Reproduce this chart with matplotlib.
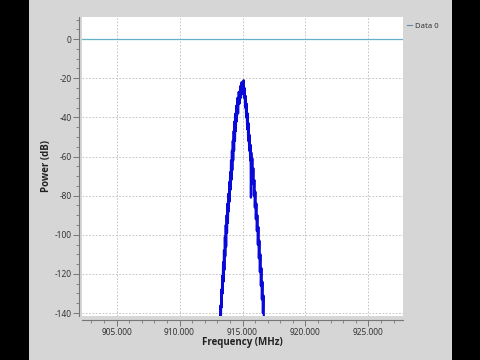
import matplotlib
matplotlib.use('Agg')
import matplotlib.pyplot as plt
from matplotlib.ticker import MultipleLocator, FormatStrFormatter
from matplotlib.patches import Rectangle

plt.rcParams['font.family'] = ['Noto Sans', 'DejaVu Sans']
plt.rcParams['axes.unicode_minus'] = False

# spectrum trace (MHz, dB)
freq_mhz = [913.20, 913.26, 913.28, 913.32, 913.35, 913.39, 913.42, 913.46, 913.49, 913.53,
            913.56, 913.60, 913.63, 913.67, 913.70, 913.74, 913.77, 913.81, 913.84, 913.88,
            913.91, 913.95, 913.98, 914.02, 914.05, 914.09, 914.12, 914.16, 914.19, 914.23,
            914.26, 914.30, 914.33, 914.37, 914.40, 914.44, 914.47, 914.51, 914.55, 914.60,
            914.65, 914.70, 914.76, 914.82, 914.88, 914.93, 914.97, 915.01,
            915.05, 915.09, 915.13, 915.17, 915.21, 915.25, 915.29, 915.33, 915.37, 915.41,
            915.45, 915.49, 915.53, 915.57, 915.61, 915.64, 915.67, 915.70, 915.74, 915.78,
            915.82, 915.86, 915.90, 915.94, 915.98, 916.02, 916.06, 916.10, 916.14, 916.18,
            916.22, 916.26, 916.30, 916.34, 916.38, 916.42, 916.46, 916.50, 916.54, 916.58,
            916.62, 916.66, 916.72]
power_db = [-150, -136, -145, -128, -137, -121, -130, -114, -124, -108,
            -118, -101, -111, -95, -106, -90, -99, -84, -94, -79,
            -88, -73, -83, -68, -77, -62, -72, -57, -67, -52,
            -62, -47, -57, -42, -52, -38, -47, -34, -42, -30,
            -38, -27, -33, -24, -30, -22, -28, -23,
            -25, -21, -30, -25, -35, -29, -40, -33, -46, -38,
            -52, -43, -57, -49, -62, -54, -81, -58, -68, -61,
            -74, -66, -80, -72, -86, -78, -92, -84, -98, -90,
            -105, -96, -112, -103, -119, -110, -126, -117, -133, -124,
            -140, -131, -150]

ref_level = 0
x_ticks = [905, 910, 915, 920, 925]

fig = plt.figure(figsize=(4.8, 3.6), dpi=100)
fig.patch.set_facecolor('black')
fig.patches.append(Rectangle((29 / 480, 0), (452 - 29) / 480, 1, transform=fig.transFigure,
                             facecolor='#d6d6d6', edgecolor='none', zorder=-10))

ax = fig.add_axes([82 / 480, 44 / 360, 321 / 480, 299 / 360])
ax.set_facecolor('white')

ax.axhline(ref_level, color='#66b0c8', linewidth=0.9)
ax.plot(freq_mhz, power_db, color='#0a0ad8', linewidth=1.6, label='Data 0')

ax.set_xlim(902.25, 927.75)
ax.set_ylim(-141.5, 11.3)
ax.set_xticks(x_ticks)
ax.xaxis.set_major_formatter(FormatStrFormatter('%.3f'))
ax.xaxis.set_minor_locator(MultipleLocator(1))
ax.yaxis.set_major_locator(MultipleLocator(20))
ax.yaxis.set_minor_locator(MultipleLocator(5))

ax.grid(True, which='major', color='#bbbbbb', linestyle=(0, (2, 2)), linewidth=0.6)

for s in ['top', 'right']:
    ax.spines[s].set_visible(False)
ax.spines['left'].set_position(('outward', 2))
ax.spines['bottom'].set_position(('outward', 3))
for s in ['left', 'bottom']:
    ax.spines[s].set_color('#777777')
    ax.spines[s].set_linewidth(0.8)

ax.tick_params(which='major', length=4, width=0.7, color='#777777', labelsize=6, labelcolor='#333333', pad=1.5)
ax.tick_params(which='minor', length=2, width=0.6, color='#777777')

label_font = dict(family=['Open Sans', 'DejaVu Sans'], size=7, weight='bold', color='#222222')
ax.set_xlabel('Frequency (MHz)', fontdict=label_font, labelpad=0)
ax.set_ylabel('Power (dB)', fontdict=label_font, labelpad=2)

ax.legend(loc='upper left', bbox_to_anchor=(1.0, 0.995), frameon=False, fontsize=5.5,
          handlelength=0.7, handletextpad=0.4, borderaxespad=0.1, labelcolor='#333333')
leg = ax.get_legend()
leg.get_lines()[0].set_color('#6688aa')
leg.get_lines()[0].set_linewidth(0.8)

fig.savefig('out.png', dpi=100, facecolor=fig.get_facecolor())
